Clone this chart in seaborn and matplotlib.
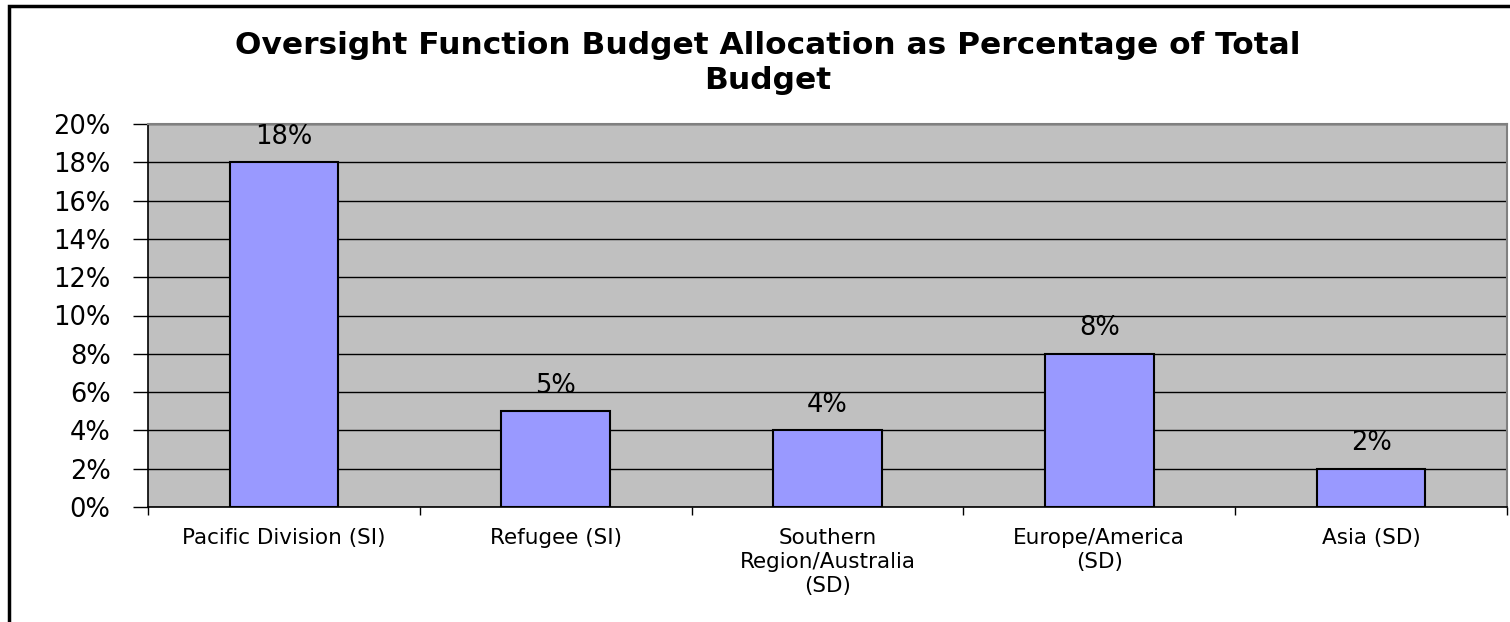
import matplotlib
matplotlib.use("Agg")
import matplotlib.pyplot as plt
import seaborn as sns
import pandas as pd
from matplotlib.ticker import FuncFormatter, MultipleLocator
from matplotlib.patches import Rectangle

categories = ["Pacific Division (SI)", "Refugee (SI)", "Southern\nRegion/Australia\n(SD)", "Europe/America\n(SD)", "Asia (SD)"]
values = [18, 5, 4, 8, 2]
labels = ["18%", "5%", "4%", "8%", "2%"]

sns.set_theme(style="white")
plt.rcParams['font.family'] = ['DejaVu Sans']
plt.rcParams['text.color'] = 'black'
plt.rcParams['xtick.labelcolor'] = 'black'
plt.rcParams['ytick.labelcolor'] = 'black'

df = pd.DataFrame({"cat": categories, "val": values})

fig = plt.figure(figsize=(15.1, 6.22), dpi=100)
ax = fig.add_axes([148/1510, 1 - 507/622, (1507-148)/1510, (507-124)/622])
ax.set_facecolor("#C0C0C0")

sns.barplot(data=df, x="cat", y="val", color="#9999FF", width=0.4, saturation=1,
            edgecolor="black", linewidth=1.5, ax=ax, zorder=3)

ax.set_ylim(0, 20)
ax.set_xlim(-0.5, 4.5)
ax.yaxis.set_major_locator(MultipleLocator(2))
ax.yaxis.set_major_formatter(FuncFormatter(lambda v, p: f"{int(round(v))}%"))
ax.grid(axis="y", color="black", linewidth=1, zorder=1)
ax.set_axisbelow(True)
ax.set_xlabel("")
ax.set_ylabel("")

ax.set_xticks([i - 0.5 for i in range(6)], minor=True)
ax.tick_params(axis="x", which="major", length=0, pad=15, labelsize=15.5)
for t in ax.get_xticklabels():
    t.set_linespacing(1.25)
ax.tick_params(axis="x", which="minor", length=6, width=1, color="black", direction="out", bottom=True)
ax.tick_params(axis="y", length=11, width=1, color="black", direction="out", left=True, labelsize=18.5, pad=16)

for s in ["left", "bottom"]:
    ax.spines[s].set_color("black")
    ax.spines[s].set_linewidth(1.2)
for s in ["top", "right"]:
    ax.spines[s].set_color("#808080")
    ax.spines[s].set_linewidth(1.5)

for i, (v, lab) in enumerate(zip(values, labels)):
    ax.annotate(lab, (i, v), xytext=(0, 9), textcoords="offset points",
                ha="center", va="bottom", fontsize=18.5, color="black")

fig.text(768/1510, 1 - 63/622, "Oversight Function Budget Allocation as Percentage of Total\nBudget",
         ha="center", va="center", fontsize=22.5, fontweight="bold", linespacing=1.25, color="black")

fig.patches.append(Rectangle((9/1510, -0.01), 1.1, 1 - 6/622 + 0.01, transform=fig.transFigure,
                             fill=False, edgecolor="black", linewidth=2.5))

fig.savefig("out.png", dpi=100)
